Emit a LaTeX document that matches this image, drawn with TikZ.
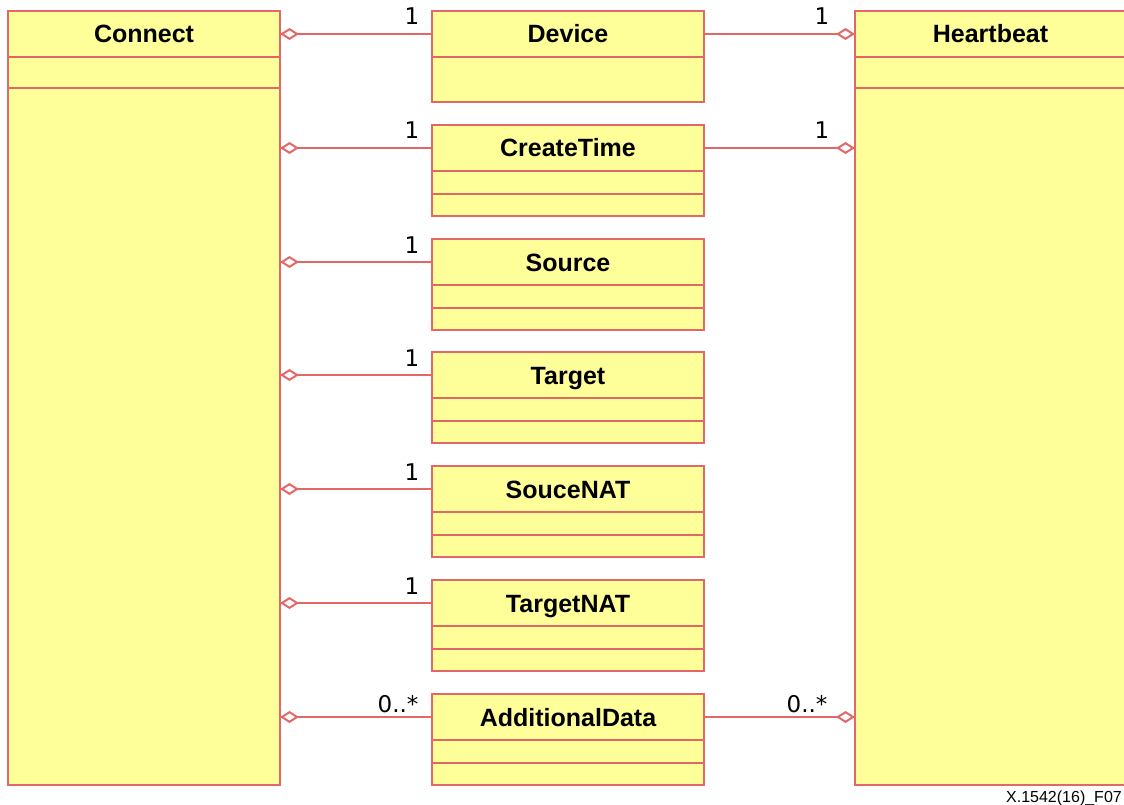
\documentclass[tikz,border=0pt]{standalone}
\usepackage{fontspec}
\usepackage{xcolor}
\usepackage{tikz}
\usetikzlibrary{positioning,arrows.meta}
\newfontfamily\lsans{Liberation Sans}
\newfontfamily\dvsans{DejaVu Sans}
\definecolor{umlred}{RGB}{226,104,104}
\definecolor{umlyellow}{RGB}{255,255,153}
\tikzset{
	cls/.style={draw=umlred,fill=umlyellow,line width=2pt,minimum width=272pt,inner sep=0pt,outer sep=0pt},
	clshead/.style={cls,minimum height=46pt,text height=18pt,text depth=0pt,
		font={\lsans\bfseries\fontsize{25}{30}\selectfont}},
	clspart/.style={cls,minimum height=23pt},
	agg/.style={draw=umlred,line width=2pt,-{Diamond[open,length=19pt,width=12pt]}},
	mult/.style={anchor=base,inner sep=0pt,font={\dvsans\fontsize{23}{27}\selectfont}}
}
\begin{document}
\begin{tikzpicture}[x=1pt,y=-1pt]
	\fill[white] (0,0) rectangle (1124,805);
	\useasboundingbox (0,0) rectangle (1124,805);
	%
	%  OUTER CLASSES
	%
	\node[clshead] (connect) at (144,34) {Connect};
	\node[clspart,minimum height=31pt,below=0pt of connect] (connectattr) {};
	\node[clspart,minimum height=697pt,below=0pt of connectattr] (connectops) {};
	\node[clshead,minimum width=271pt] (heartbeat) at (990.5,34) {Heartbeat};
	\node[clspart,minimum width=271pt,minimum height=31pt,below=0pt of heartbeat] (heartbeatattr) {};
	\node[clspart,minimum width=271pt,minimum height=697pt,below=0pt of heartbeatattr] (heartbeatops) {};
	%
	%  INNER CLASSES
	%
	\node[clshead] (device) at (568,34) {Device};
	\node[clspart,minimum height=45pt,below=0pt of device] (deviceattr) {};
	\node[clshead] (createtime) at (568,148) {CreateTime};
	\node[clspart,below=0pt of createtime] (createtimeattr) {};
	\node[clspart,minimum height=22pt,below=0pt of createtimeattr] (createtimeops) {};
	\node[clshead] (source) at (568,262) {Source};
	\node[clspart,below=0pt of source] (sourceattr) {};
	\node[clspart,minimum height=22pt,below=0pt of sourceattr] (sourceops) {};
	\node[clshead] (target) at (568,375) {Target};
	\node[clspart,below=0pt of target] (targetattr) {};
	\node[clspart,minimum height=22pt,below=0pt of targetattr] (targetops) {};
	\node[clshead] (sourcenat) at (568,489) {SouceNAT};
	\node[clspart,below=0pt of sourcenat] (sourcenatattr) {};
	\node[clspart,minimum height=22pt,below=0pt of sourcenatattr] (sourcenatops) {};
	\node[clshead] (targetnat) at (568,603) {TargetNAT};
	\node[clspart,below=0pt of targetnat] (targetnatattr) {};
	\node[clspart,minimum height=22pt,below=0pt of targetnatattr] (targetnatops) {};
	\node[clshead] (adddata) at (568,717) {AdditionalData};
	\node[clspart,below=0pt of adddata] (adddataattr) {};
	\node[clspart,minimum height=22pt,below=0pt of adddataattr] (adddataops) {};
	%
	%  AGGREGATIONS
	%
	\path[every edge/.style=agg]
	(device.west) edge (device.west -| connect.east)
	(createtime.west) edge (createtime.west -| connect.east)
	(source.west) edge (source.west -| connect.east)
	(target.west) edge (target.west -| connect.east)
	(sourcenat.west) edge (sourcenat.west -| connect.east)
	(targetnat.west) edge (targetnat.west -| connect.east)
	(adddata.west) edge (adddata.west -| connect.east)
	(device.east) edge (device.east -| heartbeat.west)
	(createtime.east) edge (createtime.east -| heartbeat.west)
	(adddata.east) edge (adddata.east -| heartbeat.west);
	%
	%  MULTIPLICITIES
	%
	\node[mult] (m1) at (412,25) {1};
	\node[mult] (m2) at (412,139) {1};
	\node[mult] (m3) at (412,253) {1};
	\node[mult] (m4) at (412,366) {1};
	\node[mult] (m5) at (412,480) {1};
	\node[mult] (m6) at (412,594) {1};
	\node[mult] (m7) at (398,712) {0..*};
	\node[mult] (m8) at (822,25) {1};
	\node[mult] (m9) at (822,139) {1};
	\node[mult] (m10) at (807,712) {0..*};
	%
	\node[anchor=base east,inner sep=0pt,font={\lsans\fontsize{16}{19}\selectfont}] (figid) at (1122,802) {X.1542(16)\_F07};
\end{tikzpicture}
\end{document}
